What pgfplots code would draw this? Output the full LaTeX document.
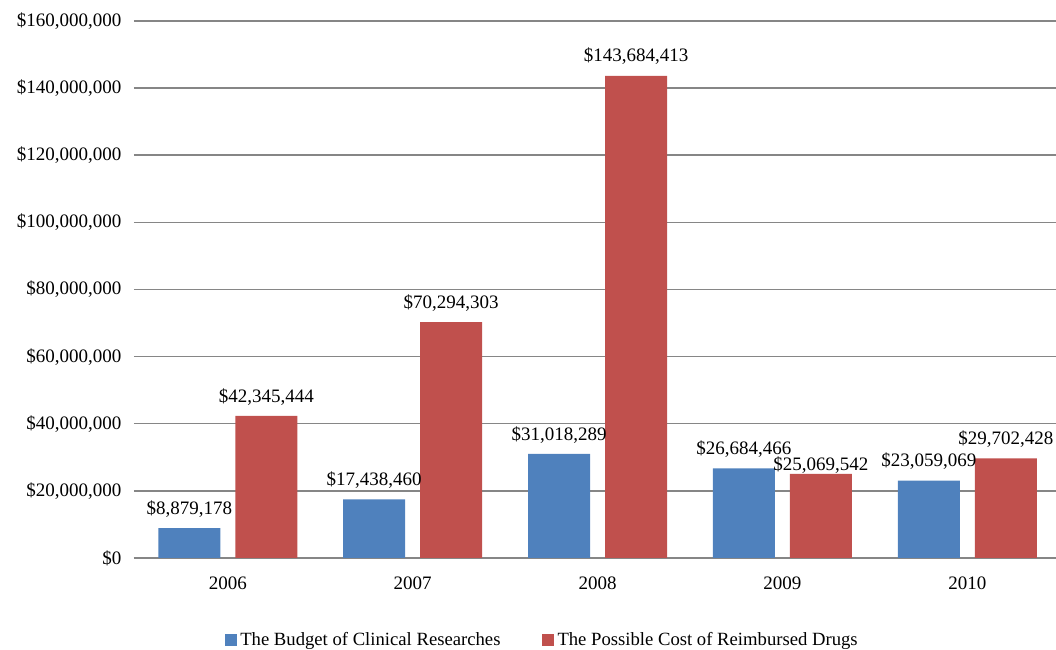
\documentclass[border=0pt]{standalone}
\usepackage{fontspec}
\setmainfont{Liberation Serif}
\usepackage{pgfplots}
\pgfplotsset{compat=1.18}
\definecolor{cblue}{HTML}{4F81BD}
\definecolor{cred}{HTML}{C0504D}
\definecolor{cgrid}{HTML}{868686}
\begin{document}
\begin{tikzpicture}
\begin{axis}[
  at={(0,0)}, anchor=south west,
  scale only axis,
  width=553.2pt, height=322.2pt,
  ybar, bar width=37.2pt, ybar=9pt,
  xmin=-0.508, xmax=4.48,
  ymin=0, ymax=160000000,
  xtick={0,1,2,3,4},
  xticklabels={2006,2007,2008,2009,2010},
  ytick={0,20000000,40000000,60000000,80000000,100000000,120000000,140000000,160000000},
  yticklabels={\$0,{\$20,000,000},{\$40,000,000},{\$60,000,000},{\$80,000,000},{\$100,000,000},{\$120,000,000},{\$140,000,000},{\$160,000,000}},
  scaled y ticks=false,
  /pgf/number format/assume math mode=true,
  ymajorgrids,
  grid style={cgrid, line width=0.9pt},
  major tick length=0pt,
  axis x line*=bottom,
  axis y line*=left,
  y axis line style={draw=none},
  x axis line style={cgrid, line width=0.9pt, -},
  tick label style={font=\fontsize{11.4}{13}\selectfont},
  xticklabel style={yshift=-8pt},
  yticklabel style={xshift=-4pt},
  point meta=explicit symbolic,
  nodes near coords,
  every node near coord/.append style={font=\fontsize{11.4}{13}\selectfont, yshift=3pt, black},
  legend style={at={(0.4436,-0.1527)}, anchor=center, draw=none, fill=none,
    legend columns=2, font=\fontsize{11.2}{13}\selectfont,
    /tikz/every even column/.append style={column sep=23pt}},
  legend image code/.code={\fill[#1] (0pt,-3.6pt) rectangle (7.2pt,3.6pt);},
  legend cell align=left,
]
\addplot[fill=cblue, draw=none] coordinates {
  (0,8879178) [\$8,879,178]
  (1,17438460) [\$17,438,460]
  (2,31018289) [\$31,018,289]
  (3,26684466) [\$26,684,466]
  (4,23059069) [\$23,059,069]
};
\addlegendentry{The Budget of Clinical Researches}
\addplot[fill=cred, draw=none] coordinates {
  (0,42345444) [\$42,345,444]
  (1,70294303) [\$70,294,303]
  (2,143684413) [\$143,684,413]
  (3,25069542) [{\raisebox{-4.5pt}[8pt][0pt]{\$25,069,542}}]
  (4,29702428) [\$29,702,428]
};
\addlegendentry{The Possible Cost of Reimbursed Drugs}
\end{axis}
\pgfresetboundingbox
\useasboundingbox (-80.4pt,-55.2pt) rectangle (553.2pt,334.8pt);
\end{tikzpicture}
\end{document}
